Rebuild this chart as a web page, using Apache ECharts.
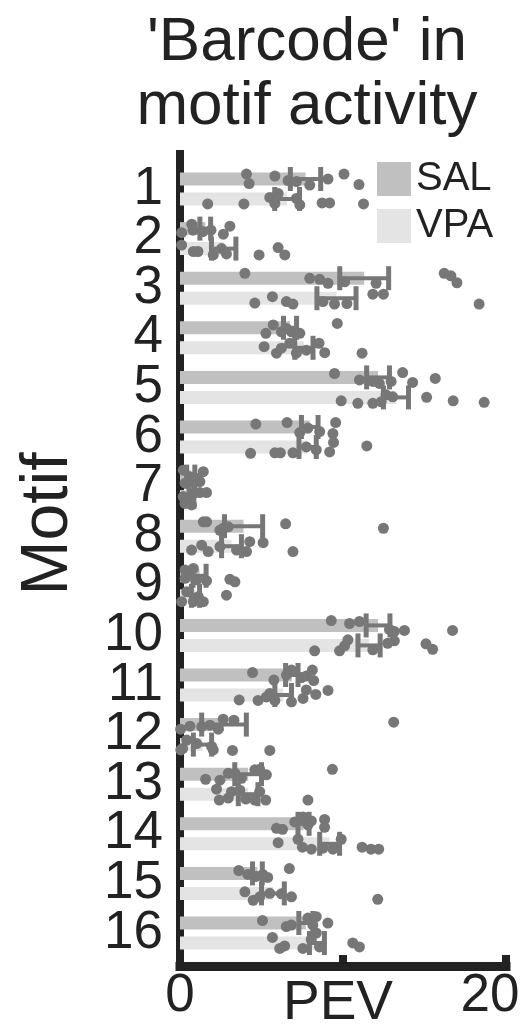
<!DOCTYPE html>
<html><head><meta charset="utf-8">
<script src="https://cdn.jsdelivr.net/npm/echarts@6/dist/echarts.min.js"></script>
<style>html,body{margin:0;padding:0;background:#fff}#c{width:523px;height:1027px}</style>
</head><body><div id="c"></div>
<script>
const motifs = ['1','2','3','4','5','6','7','8','9','10','11','12','13','14','15','16'];
const salMean = [7.7,1.55,11.3,6.75,12.15,7.96,0.66,3.9,1.2,12.15,6.86,2.7,4.18,7.58,4.75,7.72];
const salSem  = [0.93,0.33,1.5,0.4,0.7,0.51,0.25,1.17,0.4,0.73,0.38,1.37,0.82,0.34,0.3,0.43];
const vpaMean = [6.57,2.68,9.6,7.6,13.25,7.83,0.7,3.16,0.95,11.6,6.33,1.38,4.18,9.18,5.7,8.4];
const vpaSem  = [0.76,0.75,1.2,0.56,0.77,0.53,0.15,0.61,0.25,0.68,0.51,0.56,0.6,0.61,0.7,0.46];
// individual points: [PEV, motif position]
const salPoints = [
 [4.08,0.70],[4.24,0.89],[5.82,0.74],[6.63,0.83],[7.14,0.85],[7.96,0.92],[9.08,0.80],[10.06,0.70],[10.98,0.91],
 [0.1,1.88],[0.72,1.71],[0.8,1.83],[1.4,1.86],[1.9,1.83],[2.66,1.91],[3.06,1.75],
 [3.98,2.70],[7.96,2.80],[8.57,2.82],[9.08,2.90],[10.1,2.87],[12.03,2.90],[16.21,2.70],[16.62,2.75],[16.99,2.89],
 [5.27,3.91],[5.72,3.74],[6.22,3.88],[6.53,3.81],[6.84,3.88],[7.14,3.91],[7.35,3.91],[9.65,3.71],
 [9.48,4.72],[11.01,4.85],[11.83,4.88],[12.23,4.92],[12.95,4.88],[13.66,4.70],[14.27,4.90],[15.66,4.82],
 [4.65,5.74],[6.57,5.71],[7.35,5.91],[7.85,5.82],[8.57,5.89],[9.38,5.93],[9.55,5.71],
 [0.2,6.67],[0.61,6.80],[1.02,6.83],[1.43,6.70],[0.31,6.93],[0.71,6.90],[1.22,6.90],
 [1.43,7.71],[1.63,7.71],[2.45,7.88],[2.65,7.84],[2.96,7.81],[6.48,7.75],[12.48,7.84],
 [0.31,8.68],[0.82,8.65],[0.31,8.85],[1.02,8.88],[1.63,8.90],[3.06,8.87],[3.37,8.92],[0.61,8.78],
 [9.28,9.70],[10.4,9.76],[11.01,9.72],[12.85,9.88],[13.15,9.92],[13.77,9.90],[16.72,9.90],
 [4.45,10.75],[5.76,10.90],[6.53,10.80],[6.84,10.70],[7.45,10.85],[7.75,10.82],[8.12,10.70],[8.2,10.91],
 [0.04,11.89],[0.61,11.83],[1.33,11.84],[1.84,11.81],[2.35,11.89],[2.65,11.69],[3.31,11.71],[13.11,11.75],
 [1.57,12.90],[2.45,12.92],[2.96,12.78],[3.37,12.78],[3.77,12.88],[4.59,12.71],[4.89,12.70],[5.3,12.81],[9.35,12.70],
 [5.92,13.89],[6.29,13.91],[7.04,13.76],[7.55,13.66],[7.85,13.82],[8.06,13.74],[8.87,13.71],[8.87,13.87],
 [3.61,14.74],[4.16,14.82],[4.67,14.86],[5.08,14.82],[5.38,14.88],[6.71,14.70],
 [5.06,15.75],[6.52,15.87],[6.83,15.84],[7.85,15.70],[8.15,15.84],[8.36,15.67],[9.07,15.80]
];
const vpaPoints = [
 [1.7,1.30],[3.92,1.30],[5.51,1.17],[5.82,1.29],[6.02,1.09],[7.14,1.19],[7.35,1.32],[8.72,1.28],[9.18,1.28],[11.26,1.30],
 [0.1,2.13],[0.82,2.26],[1.1,2.26],[2.04,2.33],[2.55,2.20],[2.85,2.31],[4.85,2.33],[6.02,2.18],[6.43,2.33],
 [4.59,3.30],[5.67,3.17],[6.53,3.27],[6.93,3.32],[8.77,3.27],[9.48,3.32],[10.24,3.31],[11.83,3.12],[12.48,3.12],[18.35,3.32],
 [5.16,4.18],[5.92,4.31],[6.22,4.21],[6.73,4.11],[7.14,4.31],[7.75,4.25],[8.53,4.11],[8.88,4.30],[11.17,4.31],
 [9.89,5.27],[10.91,5.32],[11.83,5.32],[12.34,5.29],[12.64,5.15],[13.05,5.19],[15.13,5.20],[16.76,5.27],[18.66,5.30],
 [4.33,6.33],[5.82,6.32],[6.16,6.32],[6.93,6.32],[7.75,6.20],[8.36,6.26],[9.18,6.30],[9.42,6.11],[11.46,6.18],
 [0.2,7.20],[0.51,7.27],[0.82,7.14],[1.22,7.12],[1.63,7.12],[0.31,7.34],[0.71,7.37],
 [0.71,8.28],[1.33,8.18],[1.73,8.31],[2.45,8.21],[3.47,8.28],[4.08,8.31],[4.28,8.11],[5.1,8.13],[6.93,8.31],
 [0.1,9.32],[0.41,9.12],[0.82,9.32],[1.12,9.22],[1.43,9.32],[2.85,9.19],
 [8.26,10.31],[9.79,10.31],[10.1,10.21],[10.3,10.09],[11.83,10.29],[12.74,10.16],[13.15,10.11],[15.09,10.17],[15.5,10.28],
 [3.63,11.30],[4.79,11.31],[5.3,11.24],[5.51,11.17],[5.82,11.31],[6.84,11.34],[7.55,11.27],[7.75,11.10],[8.33,11.19],[9.08,11.11],
 [0.05,12.31],[0.16,12.28],[0.41,12.11],[1.02,12.18],[1.94,12.24],[2.04,12.31],[3.22,12.32],[5.51,12.32],
 [2.24,13.10],[2.41,13.32],[2.96,13.28],[3.16,13.15],[3.67,13.12],[4.04,13.30],[4.59,13.32],[4.89,13.15],[5.26,13.32],[7.85,13.32],
 [6.02,14.18],[7.24,14.11],[7.51,14.27],[8.06,14.31],[8.77,14.29],[9.38,14.31],[9.89,14.11],[11.17,14.27],[11.72,14.31],[12.19,14.31],
 [3.98,15.17],[4.49,15.34],[4.89,15.27],[5.51,15.20],[6.22,15.21],[6.84,15.27],[12.13,15.32],
 [5.67,16.09],[6.12,16.31],[6.42,16.26],[7.54,16.31],[8.05,16.13],[8.36,16.00],[8.56,16.28],[10.6,16.20],[11.01,16.28]
];
const xMin = 0, xMax = 20, xInterval = 10;
const xTickLabels = {0:'0', 10:'', 20:'20'};

const FONT = 'Liberation Sans, Arial, Helvetica, sans-serif';
const INK = '#222222';
const DOT = '#777777';
const BAR_W = 13, ROW_OFF = 10;

function errorItem(params, api) {
  const ci = api.value(0), mean = api.value(1), sem = api.value(2), g = api.value(3);
  const c = api.coord([mean, ci]);
  const y = c[1] + (g === 0 ? -ROW_OFF : ROW_OFF);
  const lo = api.coord([mean - sem, ci])[0];
  const hi = api.coord([mean + sem, ci])[0];
  const st = {stroke: DOT, lineWidth: 4};
  const cs = {stroke: DOT, lineWidth: 5};
  return {type: 'group', children: [
    {type: 'line', shape: {x1: lo, y1: y, x2: hi, y2: y}, style: st},
    {type: 'line', shape: {x1: lo, y1: y - 12, x2: lo, y2: y + 12}, style: cs},
    {type: 'line', shape: {x1: hi, y1: y - 12, x2: hi, y2: y + 12}, style: cs}
  ]};
}

const chart = echarts.init(document.getElementById('c'), null, {renderer: 'canvas'});
chart.setOption({
  animation: false,
  backgroundColor: '#ffffff',
  textStyle: {fontFamily: FONT},
  title: {
    text: "'Barcode' in\nmotif activity",
    left: 307, top: 11, padding: 0, textAlign: 'center',
    textStyle: {fontSize: 62, lineHeight: 64, fontWeight: 'normal', color: INK, fontFamily: FONT}
  },
  legend: {
    data: ['SAL', 'VPA'], orient: 'vertical', left: 377, top: 159, padding: 0,
    itemWidth: 34, itemHeight: 34, itemGap: 7, icon: 'rect', selectedMode: false,
    textStyle: {fontSize: 40, color: INK, lineHeight: 34, fontFamily: FONT}
  },
  grid: [
    {left: 180, right: 17, top: 164.2, bottom: 69.2, outerBoundsMode: 'none', containLabel: false},
    {left: 180, right: 17, top: 154, bottom: 61, outerBoundsMode: 'none', containLabel: false}
  ],
  xAxis: [
    {gridIndex: 0, type: 'value', min: xMin, max: xMax, show: false},
    {gridIndex: 1, type: 'value', min: xMin, max: xMax, interval: xInterval,
     axisLine: {show: true, lineStyle: {color: INK, width: 9, cap: 'square'}},
     axisTick: {show: true, inside: true, length: 11, lineStyle: {color: INK, width: 8}},
     splitLine: {show: false},
     axisLabel: {fontSize: 53, color: INK, margin: 4, fontFamily: FONT, hideOverlap: false,
       formatter: v => v === xMax ? '{r|' + xTickLabels[v] + '}' : (xTickLabels[v] !== undefined ? xTickLabels[v] : String(v)),
       rich: {r: {fontSize: 53, color: INK, fontFamily: FONT, padding: [0, 32, 0, 0]}}},
     name: 'PEV', nameLocation: 'middle', nameGap: 10, nameMoveOverlap: false,
     nameTextStyle: {fontSize: 55, color: INK, fontFamily: FONT, padding: [0, 10, 0, 0]}}
  ],
  yAxis: [
    {gridIndex: 0, type: 'category', data: motifs, inverse: true,
     axisLine: {show: false}, axisTick: {show: false}, splitLine: {show: false},
     axisLabel: {fontSize: 53, color: INK, margin: 17, fontFamily: FONT, interval: 0, hideOverlap: false}},
    {gridIndex: 0, type: 'value', min: 0.5, max: 16.5, inverse: true, show: false},
    {gridIndex: 1, type: 'value', min: 0, max: 1, offset: 4,
     axisLine: {show: true, lineStyle: {color: INK, width: 8, cap: 'square'}},
     axisTick: {show: false}, axisLabel: {show: false}, splitLine: {show: false},
     name: 'Motif', nameLocation: 'middle', nameRotate: 90, nameGap: 94, nameMoveOverlap: false,
     nameTextStyle: {fontSize: 66, color: INK, fontFamily: FONT, padding: [0, 0, 0, 72]}}
  ],
  series: [
    {name: 'SAL', type: 'bar', xAxisIndex: 0, yAxisIndex: 0, data: salMean,
     barWidth: BAR_W, barGap: '54%', itemStyle: {color: '#c0c0c0'}, z: 1},
    {name: 'VPA', type: 'bar', xAxisIndex: 0, yAxisIndex: 0, data: vpaMean,
     barWidth: BAR_W, barGap: '54%', itemStyle: {color: '#e4e4e4'}, z: 1},
    {name: 'SAL points', type: 'scatter', xAxisIndex: 0, yAxisIndex: 1, data: salPoints,
     symbolSize: 11, itemStyle: {color: DOT, opacity: 1}, z: 3},
    {name: 'VPA points', type: 'scatter', xAxisIndex: 0, yAxisIndex: 1, data: vpaPoints,
     symbolSize: 11, itemStyle: {color: DOT, opacity: 1}, z: 3},
    {name: 'SAL err', type: 'custom', xAxisIndex: 0, yAxisIndex: 0, renderItem: errorItem,
     encode: {x: 1, y: 0}, z: 4,
     data: motifs.map((m, i) => [i, salMean[i], salSem[i], 0])},
    {name: 'VPA err', type: 'custom', xAxisIndex: 0, yAxisIndex: 0, renderItem: errorItem,
     encode: {x: 1, y: 0}, z: 4,
     data: motifs.map((m, i) => [i, vpaMean[i], vpaSem[i], 1])}
  ]
});
</script></body></html>
